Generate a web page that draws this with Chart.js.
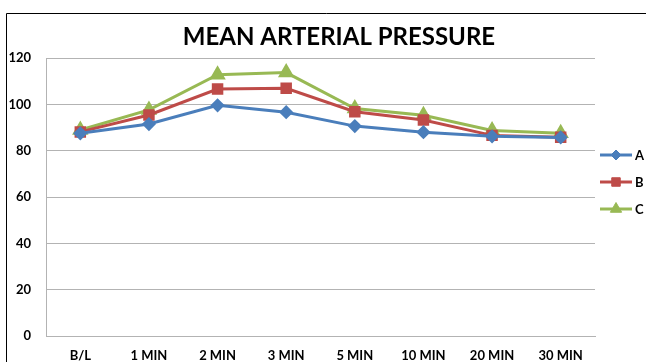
<!DOCTYPE html>
<html>
<head>
<meta charset="utf-8">
<script src="https://cdn.jsdelivr.net/npm/chart.js@4/dist/chart.umd.min.js"></script>
<style>
html,body{margin:0;padding:0;background:#fff;}
#wrap{position:relative;width:646px;height:362px;}
</style>
</head>
<body>
<div id="wrap"><canvas id="c" width="646" height="362"></canvas></div>
<script>
const chartTitle = "MEAN ARTERIAL PRESSURE";
const categories = ["B/L", "1 MIN", "2 MIN", "3 MIN", "5 MIN", "10 MIN", "20 MIN", "30 MIN"];
const seriesNames = ["A", "B", "C"];
const valuesA = [87.5, 91.5, 99.6, 96.6, 90.6, 88.0, 86.2, 85.7];
const valuesB = [88.1, 95.4, 106.6, 106.9, 96.8, 93.2, 86.6, 85.8];
const valuesC = [88.9, 97.6, 112.8, 113.7, 98.2, 95.3, 88.7, 87.5];
const yTicks = [0, 20, 40, 60, 80, 100, 120];

const colors = ["#4A7EBB", "#BE4B48", "#98B954"];
const pointStyles = ["rectRot", "rect", "triangle"];
const pointRadii = [5, 6, 6.5];
const FONT = "Lato, 'Liberation Sans', sans-serif";

const frameAndTitle = {
  id: "frameAndTitle",
  afterDraw(chart) {
    const ctx = chart.ctx;
    ctx.save();
    ctx.strokeStyle = "#000";
    ctx.lineWidth = 1;
    ctx.beginPath();
    ctx.moveTo(6.5, 362);
    ctx.lineTo(6.5, 13.5);
    ctx.lineTo(646, 13.5);
    ctx.stroke();
    ctx.fillStyle = "#000";
    ctx.font = "bold 24px " + FONT;
    ctx.textAlign = "center";
    ctx.textBaseline = "middle";
    ctx.fillText(chartTitle, 339, 37);
    // legend
    const ys = [155, 182, 209];
    chart.data.datasets.forEach((ds, i) => {
      const y = ys[i];
      ctx.strokeStyle = ds.borderColor;
      ctx.lineWidth = 3;
      ctx.beginPath();
      ctx.moveTo(600, y);
      ctx.lineTo(632, y);
      ctx.stroke();
      ctx.fillStyle = ds.borderColor;
      ctx.strokeStyle = ds.borderColor;
      ctx.lineWidth = 1;
      Chart.helpers.drawPoint(ctx, {
        pointStyle: ds.pointStyle,
        radius: ds.pointRadius,
        borderWidth: 1
      }, 616, y);
      ctx.fillStyle = "#000";
      ctx.font = "bold 13px " + FONT;
      ctx.textAlign = "left";
      ctx.fillText(ds.label, 635, y + 1);
    });
    ctx.restore();
  }
};

const mk = (i, data) => ({
  label: seriesNames[i],
  data: data,
  borderColor: colors[i],
  backgroundColor: colors[i],
  pointBackgroundColor: colors[i],
  pointBorderColor: colors[i],
  borderWidth: 3,
  pointStyle: pointStyles[i],
  pointRadius: pointRadii[i],
  pointHoverRadius: pointRadii[i],
  tension: 0
});

new Chart(document.getElementById("c"), {
  type: "line",
  data: {
    labels: categories,
    datasets: [mk(0, valuesA), mk(1, valuesB), mk(2, valuesC)]
  },
  options: {
    responsive: false,
    animation: false,
    devicePixelRatio: 1,
    layout: { padding: { left: 6, right: 51, top: 58, bottom: 0 } },
    plugins: {
      legend: { display: false },
      title: { display: false },
      tooltip: { enabled: false }
    },
    scales: {
      x: {
        offset: true,
        grid: { display: false, drawTicks: false },
        border: { display: true, color: "#b3b3b3", width: 1 },
        ticks: {
          color: "#000",
          font: { family: FONT, size: 13, weight: "bold" },
          padding: 12,
          maxRotation: 0,
          autoSkip: false
        },
        afterFit(s) { s.height = 26; }
      },
      y: {
        min: 0,
        max: 120,
        afterBuildTicks(s) { s.ticks = yTicks.map(v => ({ value: v })); },
        grid: { color: "#b3b3b3", lineWidth: 1, drawTicks: false },
        border: { display: true, color: "#b3b3b3", width: 1 },
        ticks: {
          color: "#000",
          font: { family: FONT, size: 13, weight: "bold" },
          padding: 15
        },
        afterFit(s) { s.width = 40; }
      }
    }
  },
  plugins: [frameAndTitle]
});
</script>
</body>
</html>
